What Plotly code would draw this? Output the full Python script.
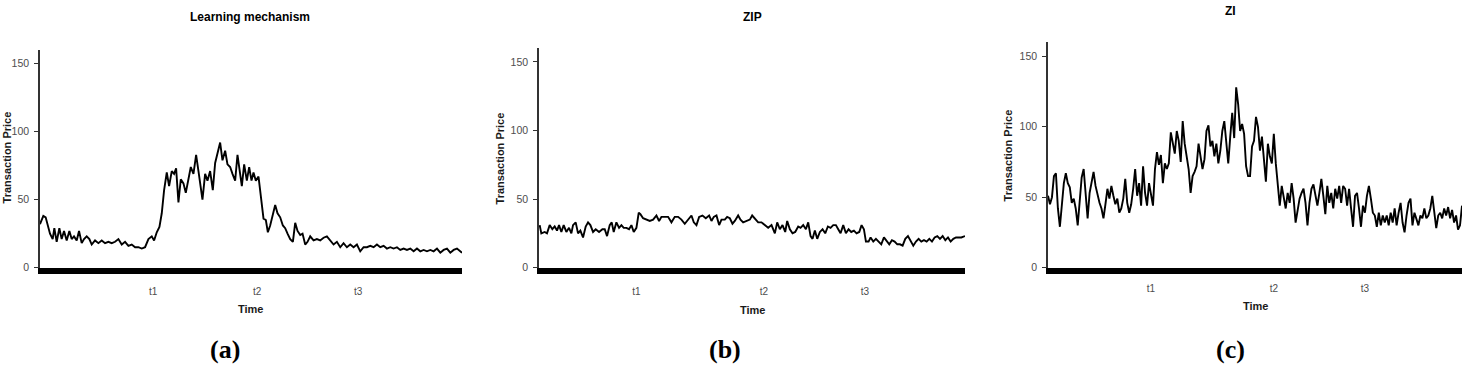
import plotly.graph_objects as go

# ---------------- data ----------------
panel_titles = ["Learning mechanism", "ZIP", "ZI"]
panel_labels = ["(a)", "(b)", "(c)"]
phase_labels = ["t1", "t2", "t3"]

time_a = [0, 10, 17, 25, 30, 38, 43, 50, 58, 65,
          72, 80, 88, 95, 102, 110, 117, 125, 132, 140,
          148, 155, 165, 175, 185, 195, 205, 215, 225, 235,
          245, 255, 265, 275, 285, 295, 305, 315, 325, 335,
          342, 350, 358, 365, 372, 380, 387, 395, 402, 408,
          415, 422, 430, 437, 445, 452, 460, 468, 475, 482,
          487, 495, 502, 510, 518, 525, 532, 540, 547, 555,
          562, 570, 577, 585, 592, 598, 605, 612, 620, 627,
          634, 640, 647, 655, 662, 670, 677, 683, 690, 698,
          705, 712, 720, 728, 735, 742, 750, 758, 765, 772,
          780, 787, 795, 802, 810, 820, 830, 840, 850, 860,
          870, 880, 890, 900, 910, 920, 930, 940, 950, 960,
          970, 980, 990, 1000, 1010, 1020, 1030, 1040, 1050, 1060,
          1070, 1080, 1090, 1100, 1110, 1120, 1130, 1140, 1150, 1160,
          1170, 1180, 1190, 1200, 1210, 1220, 1230, 1240, 1250, 1265]
price_a = [32, 38, 37, 29, 25, 21, 29, 19, 29, 21,
           27, 20, 27, 21, 23, 20, 27, 18, 21, 23,
           21, 17, 20, 18, 20, 18, 19, 18, 19, 21,
           17, 19, 16, 17, 15, 15, 14, 15, 21, 23,
           20, 26, 30, 40, 57, 70, 60, 71, 69, 73,
           48, 65, 62, 55, 65, 74, 69, 83, 71, 60,
           50, 69, 64, 71, 57, 77, 85, 92, 79, 86,
           76, 74, 69, 64, 83, 71, 60, 76, 64, 74,
           64, 70, 64, 67, 50, 36, 35, 26, 31, 40,
           46, 40, 37, 31, 29, 25, 21, 19, 33, 27,
           24, 25, 17, 19, 23, 20, 21, 20, 22, 23,
           20, 17, 19, 15, 18, 15, 17, 15, 17, 12,
           15, 15, 16, 15, 17, 15, 16, 14, 15, 14,
           15, 13, 14, 13, 14, 12, 14, 12, 13, 12,
           13, 12, 14, 11, 13, 14, 11, 13, 14, 11]
ticks_a = [339, 651, 954]

time_b = [2, 7, 17, 24, 32, 40, 47, 54, 60, 67,
          74, 82, 90, 97, 102, 110, 117, 124, 132, 140,
          147, 154, 162, 170, 180, 190, 197, 204, 212, 218,
          224, 232, 240, 247, 254, 262, 270, 277, 284, 292,
          299, 304, 312, 322, 332, 342, 352, 360, 367, 377,
          387, 397, 407, 417, 427, 437, 447, 457, 464, 472,
          480, 490, 500, 510, 517, 524, 532, 540, 547, 557,
          564, 572, 580, 587, 597, 604, 612, 622, 632, 639,
          647, 657, 667, 677, 687, 697, 707, 714, 722, 730,
          738, 744, 752, 760, 768, 777, 784, 792, 800, 807,
          814, 820, 827, 834, 842, 850, 858, 866, 874, 882,
          890, 897, 904, 912, 920, 928, 936, 944, 952, 960,
          967, 974, 980, 988, 994, 1002, 1010, 1018, 1026, 1034,
          1042, 1050, 1058, 1066, 1074, 1082, 1090, 1098, 1106, 1114,
          1122, 1130, 1138, 1146, 1154, 1162, 1170, 1178, 1186, 1194,
          1202, 1210, 1218, 1226, 1234, 1242, 1250, 1258, 1266, 1277]
price_b = [31, 25, 26, 25, 31, 28, 30, 27, 31, 26,
           31, 26, 29, 25, 31, 33, 25, 27, 22, 30,
           33, 31, 26, 28, 26, 28, 28, 23, 31, 33,
           26, 33, 29, 31, 29, 29, 28, 31, 26, 29,
           40, 39, 36, 35, 34, 35, 38, 34, 37, 37,
           37, 33, 37, 37, 35, 32, 35, 38, 33, 31,
           37, 38, 36, 38, 34, 37, 38, 31, 35, 35,
           37, 36, 32, 34, 38, 35, 33, 34, 35, 38,
           36, 33, 33, 31, 29, 31, 25, 33, 28, 31,
           26, 34, 28, 25, 26, 30, 29, 31, 28, 33,
           23, 21, 27, 21, 26, 28, 25, 30, 29, 31,
           31, 28, 25, 31, 25, 28, 26, 27, 25, 26,
           31, 28, 19, 19, 22, 19, 21, 19, 17, 22,
           19, 17, 20, 19, 17, 17, 16, 21, 23, 19,
           16, 19, 21, 19, 20, 19, 21, 19, 22, 23,
           21, 23, 20, 22, 19, 21, 22, 22, 22, 23]
ticks_b = [292, 674, 977]

price_c = [51, 45, 50, 65, 67, 42, 29, 44, 60, 67, 60, 57, 46, 49, 42, 30,
           45, 64, 70, 51, 35, 53, 60, 68, 58, 51, 46, 42, 35, 45, 56, 49,
           58, 51, 45, 49, 39, 42, 49, 63, 46, 39, 45, 56, 70, 51, 60, 44,
           72, 53, 44, 60, 51, 44, 70, 82, 73, 80, 60, 74, 70, 74, 96, 88,
           81, 97, 90, 75, 104, 88, 79, 70, 53, 65, 68, 72, 88, 79, 70, 77,
           97, 101, 86, 90, 79, 88, 74, 83, 97, 104, 88, 74, 93, 110, 92, 128,
           116, 97, 102, 95, 72, 65, 65, 86, 90, 107, 100, 83, 93, 77, 61, 88,
           79, 74, 95, 74, 56, 44, 58, 49, 42, 53, 46, 60, 49, 32, 42, 49,
           53, 56, 46, 30, 46, 56, 59, 51, 44, 53, 63, 51, 38, 58, 46, 53,
           42, 56, 49, 58, 46, 58, 56, 44, 56, 42, 29, 51, 53, 42, 29, 44,
           39, 51, 58, 49, 39, 37, 29, 39, 30, 37, 32, 37, 30, 39, 32, 42,
           30, 39, 46, 32, 25, 37, 46, 49, 30, 39, 35, 30, 37, 35, 42, 35,
           37, 42, 51, 39, 28, 37, 39, 35, 42, 37, 43, 35, 41, 32, 37, 27,
           30, 44]
time_c = list(range(len(price_c)))
ticks_c = [52, 114, 160]

y_ticks = [0, 50, 100, 150]

# ---------------- layout helpers ----------------
W, H = 1470, 372
def px(x):
    return x / W
def py(y):
    return 1 - y / H

SANS = "Liberation Sans, Arial, sans-serif"
SERIF = "Liberation Serif, Times New Roman, serif"

panels = [
    dict(t=time_a, p=price_a, ticks=ticks_a, xr=[0, 1265], standoff=9,
         xd=[40, 462], yd=[272, 51], ytop=160,
         title=(250, 17), ytitle=(7, 160), xtitle=(250, 314), lab=(225, 355)),
    dict(t=time_b, p=price_b, ticks=ticks_b, xr=[0, 1277], standoff=9,
         xd=[539, 965], yd=[272, 49], ytop=160,
         title=(752, 17), ytitle=(500, 161), xtitle=(752, 315), lab=(725, 355)),
    dict(t=time_c, p=price_c, ticks=ticks_c, xr=[0, len(price_c) - 1], standoff=6,
         xd=[1048, 1462], yd=[272, 43], ytop=160,
         title=(1230, 11), ytitle=(1008, 158), xtitle=(1255, 311), lab=(1230, 355)),
]

fig = go.Figure()
annotations = []
for i, pn in enumerate(panels):
    s = "" if i == 0 else str(i + 1)
    fig.add_trace(go.Scatter(x=pn["t"], y=pn["p"], mode="lines",
                             line=dict(color="black", width=1.9),
                             xaxis="x" + s, yaxis="y" + s, showlegend=False,
                             hoverinfo="skip"))
    fig.layout["xaxis" + s] = dict(
        domain=[px(pn["xd"][0]), px(pn["xd"][1])], range=pn["xr"],
        anchor="y" + s, tickmode="array", tickvals=pn["ticks"], ticktext=phase_labels,
        showline=True, linewidth=6, linecolor="black", ticks="",
        ticklabelstandoff=pn["standoff"],
        showgrid=False, zeroline=False,
        tickfont=dict(family=SANS, size=10, color="#4d4d4d"))
    fig.layout["yaxis" + s] = dict(
        domain=[py(pn["yd"][0]), py(pn["yd"][1])], range=[0, pn["ytop"]],
        anchor="x" + s, tickmode="array", tickvals=y_ticks,
        ticks="outside", ticklen=4, tickwidth=1, tickcolor="#333333",
        ticklabelstandoff=3,
        showline=True, linewidth=1.5, linecolor="#333333",
        showgrid=False, zeroline=False,
        tickfont=dict(family=SANS, size=10.5, color="#4d4d4d"))
    annotations += [
        dict(text="<b>%s</b>" % panel_titles[i], x=px(pn["title"][0]), y=py(pn["title"][1]),
             xref="paper", yref="paper", showarrow=False, xanchor="center", yanchor="middle",
             font=dict(family=SANS, size=12, color="black")),
        dict(text="<b>Transaction Price</b>", x=px(pn["ytitle"][0]), y=py(pn["ytitle"][1]),
             xref="paper", yref="paper", showarrow=False, textangle=-90,
             xanchor="center", yanchor="middle",
             font=dict(family=SANS, size=11, color="#1a1a1a")),
        dict(text="<b>Time</b>", x=px(pn["xtitle"][0]), y=py(pn["xtitle"][1]),
             xref="paper", yref="paper", showarrow=False, xanchor="center", yanchor="middle",
             font=dict(family=SANS, size=11, color="#1a1a1a")),
        dict(text="<b>%s</b>" % panel_labels[i], x=px(pn["lab"][0]), y=py(pn["lab"][1]),
             xref="paper", yref="paper", showarrow=False, xanchor="center", yanchor="middle",
             font=dict(family=SERIF, size=26, color="black")),
    ]

fig.update_layout(width=W, height=H, margin=dict(l=0, r=0, t=0, b=0),
                  paper_bgcolor="white", plot_bgcolor="white",
                  annotations=annotations, showlegend=False)

fig.write_html("out.html")
